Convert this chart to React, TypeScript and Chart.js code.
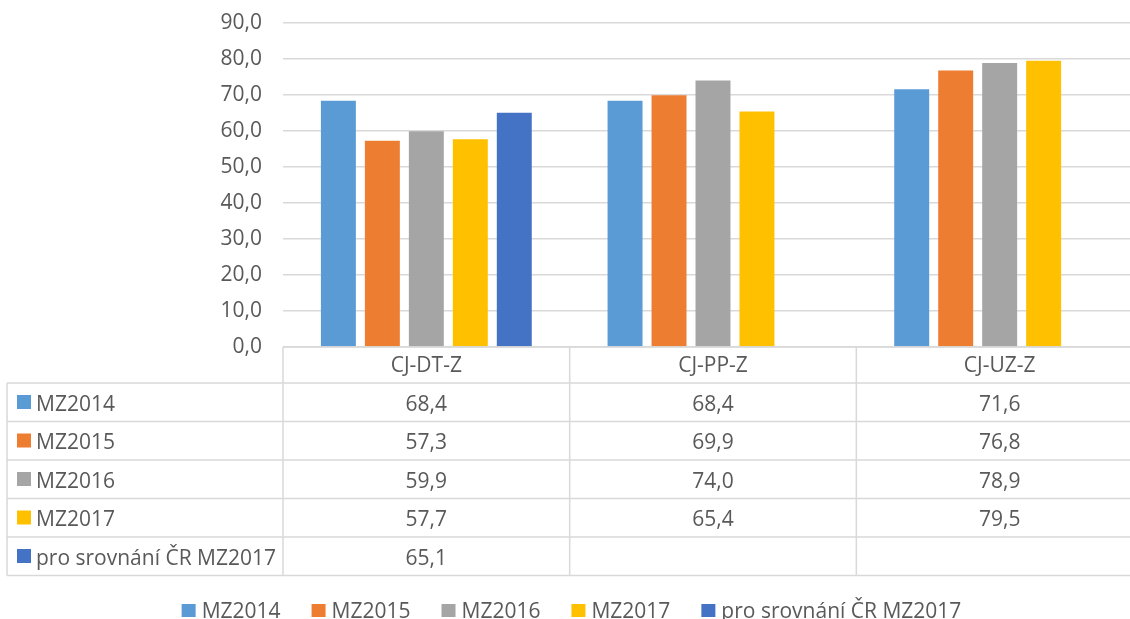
import React, { useEffect, useRef } from "react";
import { Chart, registerables } from "chart.js";

Chart.register(...registerables);

const categories = ["CJ-DT-Z", "CJ-PP-Z", "CJ-UZ-Z"];
const seriesNames = ["MZ2014", "MZ2015", "MZ2016", "MZ2017", "pro srovnání ČR MZ2017"];
const mz2014 = [68.4, 68.4, 71.6];
const mz2015 = [57.3, 69.9, 76.8];
const mz2016 = [59.9, 74.0, 78.9];
const mz2017 = [57.7, 65.4, 79.5];
const crMz2017 = [65.1, null, null];
const seriesColors = ["#5B9BD5", "#ED7D31", "#A5A5A5", "#FFC000", "#4472C4"];
const yMin = 0;
const yMax = 90;
const yStep = 10;

const FONT = "'Open Sans', sans-serif";
const TEXT = "#595959";
const LINE = "#D9D9D9";
const W = 1143;
const H = 619;
const PLOT_TOP = 23;

const fmt = (v: number | null) => (v === null || v === undefined ? "" : v.toFixed(1).replace(".", ","));

const tablePlugin = {
  id: "dataTable",
  afterDraw(chart: any) {
    const ctx = chart.ctx as CanvasRenderingContext2D;
    const area = chart.chartArea;
    const n = categories.length;
    const colW = (area.right - area.left) / n;
    const headerTop = area.bottom;
    const headerBottom = headerTop + 36;
    const rowH = 38.5;
    const tableLeft = 7;
    const nRows = chart.data.datasets.length;
    const tableBottom = headerBottom + nRows * rowH;
    ctx.save();
    ctx.strokeStyle = LINE;
    ctx.lineWidth = 1.5;
    ctx.beginPath();
    ctx.moveTo(area.left, headerTop);
    ctx.lineTo(area.right, headerTop);
    for (let r = 0; r <= nRows; r++) {
      const y = headerBottom + r * rowH;
      ctx.moveTo(tableLeft, y);
      ctx.lineTo(area.right, y);
    }
    ctx.moveTo(tableLeft, headerBottom);
    ctx.lineTo(tableLeft, tableBottom);
    for (let c = 0; c <= n; c++) {
      const x = area.left + c * colW;
      ctx.moveTo(x, headerTop);
      ctx.lineTo(x, tableBottom);
    }
    ctx.stroke();

    ctx.font = `21px ${FONT}`;
    ctx.fillStyle = TEXT;
    ctx.textBaseline = "alphabetic";
    ctx.textAlign = "center";
    const xs = chart.scales.x;
    chart.data.labels.forEach((lab: string, i: number) => {
      ctx.fillText(lab, xs.getPixelForValue(i), headerTop + 25);
    });
    chart.data.datasets.forEach((ds: any, r: number) => {
      const top = headerBottom + r * rowH;
      ctx.fillStyle = ds.backgroundColor;
      ctx.fillRect(17, top + 12, 14, 14);
      ctx.fillStyle = TEXT;
      ctx.textAlign = "left";
      ctx.fillText(ds.label, 36, top + 27.5);
      ctx.textAlign = "center";
      ds.data.forEach((v: number | null, i: number) => {
        ctx.fillText(fmt(v), xs.getPixelForValue(i), top + 27.5);
      });
    });

    // legend
    const items = chart.data.datasets.map((ds: any) => ({
      label: ds.label,
      color: ds.backgroundColor,
      w: 20 + ctx.measureText(ds.label).width,
    }));
    const gap = 31;
    const total = items.reduce((s: number, it: any) => s + it.w, 0) + gap * (items.length - 1);
    let x = chart.width / 2 - total / 2;
    ctx.textAlign = "left";
    items.forEach((it: any) => {
      ctx.fillStyle = it.color;
      ctx.fillRect(x, 604, 14, 13);
      ctx.fillStyle = TEXT;
      ctx.fillText(it.label, x + 20, 618);
      x += it.w + gap;
    });
    ctx.restore();
  },
};

export default function App() {
  const ref = useRef<HTMLCanvasElement>(null);
  useEffect(() => {
    if (!ref.current) return;
    const allSeries = [mz2014, mz2015, mz2016, mz2017, crMz2017];
    const chart = new Chart(ref.current, {
      type: "bar",
      data: {
        labels: categories,
        datasets: allSeries.map((d, i) => ({
          label: seriesNames[i],
          data: d as any,
          backgroundColor: seriesColors[i],
          categoryPercentage: 0.767,
          barPercentage: 0.795,
        })),
      },
      options: {
        responsive: false,
        animation: false,
        layout: { padding: { top: PLOT_TOP, left: 0, right: 0, bottom: 0 } },
        plugins: { legend: { display: false }, tooltip: { enabled: false } },
        scales: {
          x: {
            grid: { display: false, drawTicks: false },
            border: { display: false },
            ticks: { display: false },
            afterFit: (s: any) => {
              s.height = H - 347;
            },
          },
          y: {
            min: yMin,
            max: yMax,
            grid: { color: LINE, lineWidth: 1.5, drawTicks: false },
            border: { display: false },
            ticks: {
              stepSize: yStep,
              padding: 21,
              color: TEXT,
              font: { family: FONT, size: 21 },
              callback: (v: any) => fmt(Number(v)),
            },
            afterFit: (s: any) => {
              s.width = 283;
              s.paddingTop = 0;
              s.paddingBottom = 0;
            },
          },
        },
      },
      plugins: [tablePlugin],
    });
    return () => chart.destroy();
  }, []);
  return (
    <div style={{ position: "fixed", left: 0, top: 0, width: 1130, height: H, overflow: "hidden", background: "#fff" }}>
      <canvas ref={ref} width={W} height={H} style={{ display: "block", width: W, height: H }} />
    </div>
  );
}
